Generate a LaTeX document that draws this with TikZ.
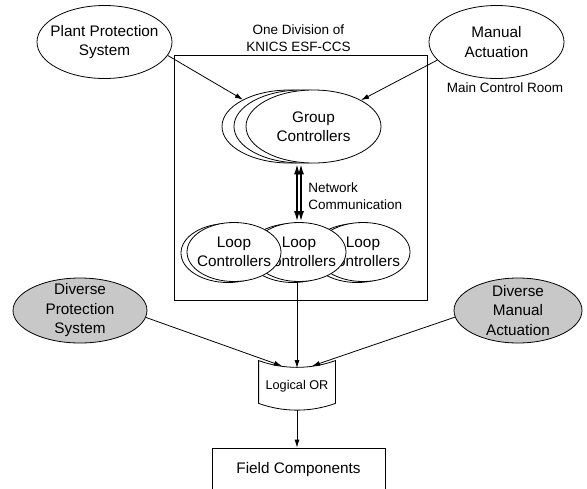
\documentclass[tikz,border=0pt]{standalone}
\usepackage{fontspec}
\setmainfont{Liberation Sans}
\usetikzlibrary{shapes.geometric,arrows.meta}
\definecolor{divgray}{RGB}{200,200,200}
\tikzset{
  bigtxt/.style={font=\fontsize{15.3}{19.5}\selectfont, align=center},
  medtxt/.style={font=\fontsize{13.5}{17}\selectfont},
  smalltxt/.style={font=\fontsize{12.7}{15}\selectfont},
  ell/.style={draw, ellipse, fill=white, inner sep=0pt, minimum width=135pt, minimum height=73pt},
  divell/.style={ell, fill=divgray, minimum width=134pt, minimum height=65pt},
  loopell/.style={ell, minimum width=94pt, minimum height=59pt},
  arr/.style={-{Latex[length=8pt,width=5pt]}},
  net/.style={{Latex[length=11pt,width=6pt]}-{Latex[length=11pt,width=6pt]}, line width=2pt},
}
\begin{document}
\begin{tikzpicture}[x=1pt, y=-1pt, line width=0.8pt]
\useasboundingbox (0,0) rectangle (587,488);
% one division
\draw (174,55) rectangle (427,300);
\draw(298.5,38.5) node[medtxt, align=center] (div) {One Division of\\KNICS ESF-CCS};
% inputs
\draw(104.5,42) node[ell, label={[bigtxt]center:Plant Protection\\System}] (pps) {};
\draw(496.5,42) node[ell, label={[bigtxt]center:Manual\\Actuation}] (ma) {};
\draw(505,88) node[medtxt] (mcr) {Main Control Room};
% group controllers
\foreach \x/\n in {289.5/c, 301.5/b} \draw(\x,126.5) node[ell] (grp\n) {};
\draw(313.5,126.5) node[ell, label={[bigtxt]center:Group\\Controllers}] (grpa) {};
% loop controllers
\foreach \x/\n in {363/c, 299/b, 234/a} {
  \draw(\x-6,253) node[loopell] (lpbk\n) {};
  \draw(\x,252) node[loopell, label={[bigtxt]center:Loop\\Controllers}] (lp\n) {};
}
\foreach \dx in {-2,2} \draw[net] ([xshift=\dx pt]lpb.north) -- ([xshift=\dx pt]lpb.north |- grpa.south);
\draw(308,196.5) node[medtxt, anchor=west, align=left, inner sep=0pt] (netlbl) {Network\\Communication};
% diverse systems
\draw(80,310.5) node[divell, label={[bigtxt]center:Diverse\\Protection\\System}] (dps) {};
\draw(518,310.5) node[divell, minimum width=128pt, label={[bigtxt]center:Diverse\\Manual\\Actuation}] (dma) {};
% logical or
\draw(297,382) node[minimum width=76pt, minimum height=42pt, inner sep=0pt, label={[smalltxt, yshift=-4pt]center:Logical OR}] (or) {};
\draw (or.north west) .. controls +(25,9) and +(-25,9) .. (or.north east) -- (or.south east)
  .. controls +(-25,9) and +(25,9) .. (or.south west) -- cycle;
\coordinate (orL) at (282,366);
\coordinate (orM) at (297,368);
\coordinate (orR) at (312,366);
\coordinate (orS) at (297,410);
\draw(298.5,470) node[draw, bigtxt, minimum width=173pt, minimum height=44pt] (fc) {Field Components};
% connections
\draw[arr] (pps.-12) -- (grpc.150);
\draw[arr] (ma.197) -- (grpa.29);
\draw[arr] (lpb.south -| orM) -- (orM);
\draw[arr] (dps.-6) -- (orL);
\draw[arr] (dma.186) -- (orR);
\draw[arr] (orS) -- (orS |- fc.north);
\end{tikzpicture}
\end{document}
